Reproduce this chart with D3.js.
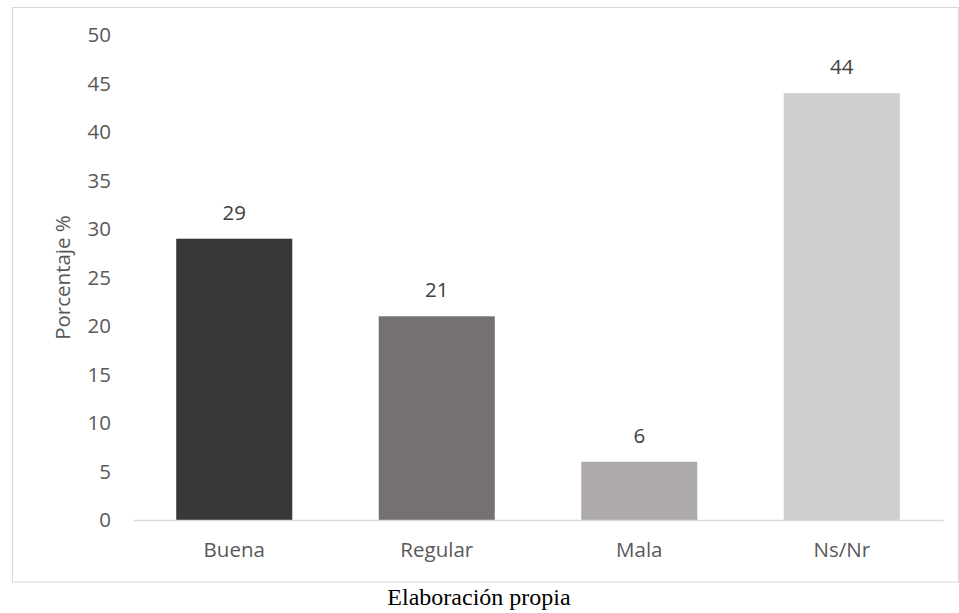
<!DOCTYPE html>
<html>
<head>
<meta charset="utf-8">
<script src="https://cdn.jsdelivr.net/npm/d3@7"></script>
<style>
  html, body { margin: 0; padding: 0; background: #fff; }
  svg { display: block; }
</style>
</head>
<body>
<svg id="chart" width="959" height="613"></svg>
<script>
// Survey responses, percentage per answer
const categories = ["Buena", "Regular", "Mala", "Ns/Nr"];
const values = [29, 21, 6, 44];
const barColors = ["#3a3836", "#767171", "#aeaaaa", "#d0cece"];
const yTicks = [0, 5, 10, 15, 20, 25, 30, 35, 40, 45, 50];
const yTitle = "Porcentaje %";
const caption = "Elaboración propia";

const svg = d3.select("#chart");
const textColor = "#595959";
const font = "'Open Sans', 'Noto Sans', sans-serif";
const fontSize = 20.5;

// chart frame
svg.append("rect")
  .attr("x", 12.5).attr("y", 7.5)
  .attr("width", 946).attr("height", 574.5)
  .attr("fill", "#fff")
  .attr("stroke", "#d9d9d9").attr("stroke-width", 1);

const plot = { left: 133, right: 943, top: 35, bottom: 520 };

const x = d3.scaleBand()
  .domain(categories)
  .range([plot.left, plot.right])
  .paddingInner(0.427)
  .paddingOuter(0.2135);

const y = d3.scaleLinear()
  .domain([0, 50])
  .range([plot.bottom, plot.top]);

// bars
svg.append("g").selectAll("rect")
  .data(categories)
  .join("rect")
  .attr("x", d => x(d))
  .attr("width", x.bandwidth())
  .attr("y", (d, i) => y(values[i]))
  .attr("height", (d, i) => y(0) - y(values[i]))
  .attr("fill", (d, i) => barColors[i]);

// value labels
svg.append("g").selectAll("text")
  .data(categories)
  .join("text")
  .attr("x", d => x(d) + x.bandwidth() / 2)
  .attr("y", (d, i) => y(values[i]) - 19)
  .attr("text-anchor", "middle")
  .attr("font-family", font)
  .attr("font-size", fontSize)
  .attr("fill", "#404040")
  .text((d, i) => values[i]);

// y axis (labels only)
const yAxis = svg.append("g")
  .attr("transform", `translate(${plot.left - 22},0)`)
  .call(d3.axisLeft(y).tickValues(yTicks).tickSize(0).tickPadding(0));
yAxis.select(".domain").remove();
yAxis.selectAll("text")
  .attr("font-family", font)
  .attr("font-size", fontSize)
  .attr("fill", textColor);

// x axis
const xAxis = svg.append("g")
  .attr("transform", `translate(0,${plot.bottom})`)
  .call(d3.axisBottom(x).tickSize(0).tickPadding(22));
xAxis.select(".domain")
  .attr("stroke", "#d9d9d9").attr("stroke-width", 1.5);
xAxis.selectAll("text")
  .attr("font-family", font)
  .attr("font-size", fontSize)
  .attr("fill", textColor);

// y axis title
svg.append("text")
  .attr("transform", `translate(70,${(plot.top + plot.bottom) / 2}) rotate(-90)`)
  .attr("text-anchor", "middle")
  .attr("font-family", font)
  .attr("font-size", fontSize)
  .attr("fill", textColor)
  .text(yTitle);

// caption below the frame
svg.append("text")
  .attr("x", 479)
  .attr("y", 605)
  .attr("text-anchor", "middle")
  .attr("font-family", "'Liberation Serif', 'Times New Roman', serif")
  .attr("font-size", 24)
  .attr("fill", "#000")
  .text(caption);
</script>
</body>
</html>
